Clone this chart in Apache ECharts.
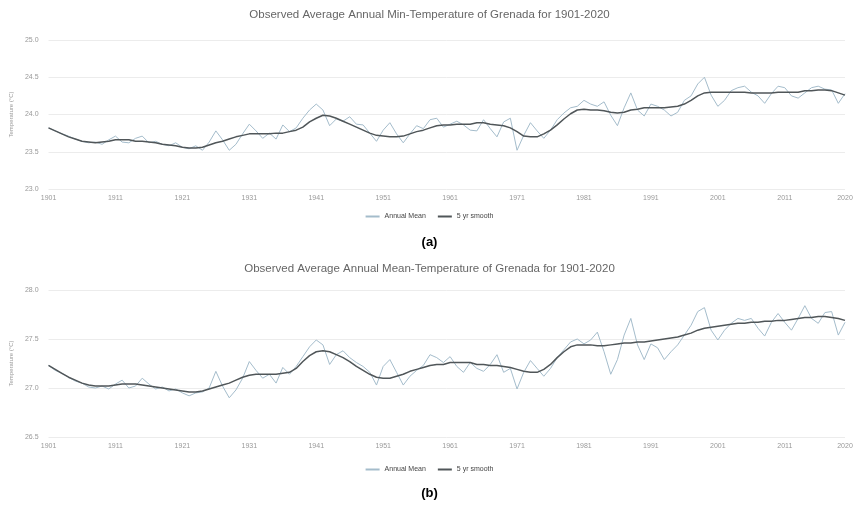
<!DOCTYPE html>
<html>
<head>
<meta charset="utf-8">
<script src="https://cdn.jsdelivr.net/npm/echarts@6/dist/echarts.min.js"></script>
<style>
  html, body { margin: 0; padding: 0; background: #fff; }
  #chart { width: 859px; height: 512px; }
</style>
</head>
<body>
<div id="chart"></div>
<script>
// Years 1901–2020
const years = [];
for (let y = 1901; y <= 2020; y++) years.push(String(y));

const titleMin = 'Observed Average Annual Min-Temperature of Grenada for 1901-2020';
const titleMean = 'Observed Average Annual Mean-Temperature of Grenada for 1901-2020';
const seriesNames = ['Annual Mean', '5 yr smooth'];

// Annual minimum temperature (°C)
const minAnnual = [
  23.82,23.78,23.74,23.71,23.67,23.64,23.62,23.63,23.60,23.66,
  23.71,23.63,23.62,23.68,23.71,23.62,23.64,23.60,23.58,23.62,
  23.56,23.54,23.58,23.52,23.63,23.78,23.66,23.52,23.60,23.74,
  23.87,23.78,23.68,23.75,23.67,23.86,23.77,23.82,23.95,24.06,
  24.14,24.06,23.85,23.94,23.91,23.97,23.87,23.86,23.75,23.64,
  23.79,23.89,23.74,23.62,23.74,23.85,23.81,23.93,23.95,23.83,
  23.87,23.91,23.86,23.79,23.78,23.93,23.81,23.70,23.90,23.95,
  23.52,23.72,23.89,23.78,23.68,23.79,23.93,24.02,24.09,24.11,
  24.19,24.14,24.11,24.17,23.99,23.85,24.09,24.29,24.06,23.98,
  24.14,24.11,24.06,23.98,24.03,24.19,24.25,24.41,24.50,24.26,
  24.11,24.19,24.32,24.36,24.38,24.30,24.25,24.15,24.28,24.38,
  24.36,24.25,24.22,24.29,24.36,24.38,24.34,24.33,24.15,24.28
];
// 5-year smoothed minimum temperature (°C)
const minSmooth = [
  23.82,23.78,23.74,23.70,23.67,23.64,23.63,23.62,23.63,23.64,
  23.66,23.66,23.66,23.64,23.64,23.63,23.62,23.60,23.59,23.58,
  23.56,23.55,23.55,23.56,23.59,23.62,23.64,23.67,23.70,23.72,
  23.74,23.74,23.74,23.74,23.75,23.75,23.77,23.79,23.83,23.90,
  23.95,23.99,23.98,23.95,23.91,23.87,23.83,23.79,23.75,23.72,
  23.71,23.70,23.70,23.71,23.74,23.77,23.79,23.82,23.85,23.86,
  23.86,23.87,23.87,23.87,23.89,23.89,23.87,23.86,23.85,23.82,
  23.77,23.71,23.70,23.70,23.74,23.79,23.86,23.94,24.01,24.06,
  24.07,24.06,24.06,24.05,24.03,24.02,24.03,24.06,24.07,24.09,
  24.09,24.09,24.09,24.10,24.11,24.14,24.19,24.25,24.29,24.30,
  24.30,24.30,24.30,24.30,24.30,24.29,24.29,24.29,24.29,24.30,
  24.30,24.30,24.30,24.32,24.32,24.33,24.33,24.32,24.29,24.26
];
// Annual mean temperature (°C)
const meanAnnual = [
  27.23,27.18,27.15,27.11,27.07,27.05,27.01,27.00,27.02,26.99,
  27.04,27.08,27.00,27.02,27.10,27.04,26.99,27.01,26.97,26.99,
  26.95,26.92,26.95,26.96,27.00,27.17,27.02,26.90,26.98,27.10,
  27.27,27.18,27.10,27.14,27.05,27.21,27.14,27.22,27.32,27.42,
  27.49,27.44,27.24,27.34,27.38,27.31,27.26,27.22,27.16,27.03,
  27.22,27.29,27.16,27.03,27.12,27.18,27.23,27.34,27.31,27.26,
  27.32,27.22,27.16,27.26,27.20,27.17,27.24,27.34,27.16,27.20,
  26.99,27.16,27.28,27.20,27.12,27.20,27.31,27.39,27.47,27.50,
  27.45,27.49,27.57,27.37,27.14,27.29,27.54,27.71,27.44,27.29,
  27.45,27.41,27.29,27.37,27.44,27.54,27.64,27.78,27.82,27.59,
  27.49,27.59,27.66,27.71,27.69,27.71,27.61,27.53,27.67,27.76,
  27.67,27.59,27.71,27.84,27.71,27.66,27.77,27.78,27.54,27.67
];
// 5-year smoothed mean temperature (°C)
const meanSmooth = [
  27.23,27.19,27.15,27.11,27.08,27.05,27.03,27.02,27.02,27.02,
  27.03,27.04,27.04,27.04,27.03,27.02,27.01,27.00,26.99,26.98,
  26.97,26.96,26.96,26.97,26.99,27.01,27.03,27.05,27.08,27.11,
  27.13,27.14,27.14,27.14,27.14,27.15,27.16,27.20,27.27,27.33,
  27.37,27.38,27.37,27.34,27.31,27.27,27.22,27.18,27.14,27.11,
  27.10,27.10,27.12,27.14,27.17,27.19,27.21,27.23,27.24,27.24,
  27.26,27.26,27.26,27.26,27.24,27.24,27.23,27.23,27.22,27.21,
  27.19,27.17,27.16,27.16,27.19,27.24,27.31,27.37,27.42,27.44,
  27.44,27.44,27.43,27.43,27.44,27.45,27.46,27.46,27.47,27.47,
  27.48,27.49,27.50,27.51,27.52,27.54,27.56,27.59,27.61,27.62,
  27.63,27.64,27.65,27.66,27.66,27.67,27.67,27.68,27.68,27.69,
  27.69,27.70,27.71,27.72,27.72,27.73,27.73,27.72,27.71,27.69
];

// Axis ranges and tick spacing (°C)
const minAxis = { min: 23.0, max: 25.0, interval: 0.5 };
const meanAxis = { min: 26.5, max: 28.0, interval: 0.5 };

const annualColor = '#a4bccb';
const smoothColor = '#505659';
const textGrey = '#666';
const lightGrey = '#999';

function xAxisFor(gridIndex) {
  return {
    type: 'category', gridIndex, data: years, boundaryGap: false,
    axisLine: { show: false },
    axisTick: { show: false },
    axisLabel: {
      color: lightGrey, fontSize: 7, margin: 6,
      interval: (i) => i % 10 === 0 || i === years.length - 1
    },
    splitLine: { show: false }
  };
}
function yAxisFor(gridIndex, range) {
  return {
    type: 'value', gridIndex, min: range.min, max: range.max, interval: range.interval,
    name: 'Temperature (°C)', nameLocation: 'middle', nameGap: 32, nameRotate: 90,
    nameTextStyle: { color: lightGrey, fontSize: 6 },
    axisLine: { show: false }, axisTick: { show: false },
    axisLabel: { color: lightGrey, fontSize: 7, margin: 10, formatter: (v) => v.toFixed(1) },
    splitLine: { lineStyle: { color: '#ececec', width: 1 } }
  };
}
function seriesFor(idx, annual, smooth) {
  return [
    { name: seriesNames[0], type: 'line', xAxisIndex: idx, yAxisIndex: idx, data: annual,
      symbol: 'none', lineStyle: { color: annualColor, width: 1 }, itemStyle: { color: annualColor }, z: 2 },
    { name: seriesNames[1], type: 'line', xAxisIndex: idx, yAxisIndex: idx, data: smooth,
      symbol: 'none', lineStyle: { color: smoothColor, width: 1.5 }, itemStyle: { color: smoothColor }, z: 3 }
  ];
}
// Legend keys drawn as short flat strokes
function legendFor(top) {
  return {
    top, left: 'center', data: seriesNames, itemWidth: 14, itemHeight: 2, itemGap: 12,
    icon: 'rect',
    textStyle: { color: '#444', fontSize: 7 }
  };
}

const chart = echarts.init(document.getElementById('chart'), null, { renderer: 'canvas' });
chart.setOption({
  animation: false,
  backgroundColor: '#fff',
  title: [
    { text: titleMin, left: 'center', top: 4, textStyle: { color: textGrey, fontSize: 11.5, fontWeight: 'normal' } },
    { text: titleMean, left: 'center', top: 258, textStyle: { color: textGrey, fontSize: 11.5, fontWeight: 'normal' } }
  ],
  legend: [legendFor(208), legendFor(461)],
  grid: [
    { left: 48, right: 14, top: 40, height: 149 },
    { left: 48, right: 14, top: 290, height: 147 }
  ],
  xAxis: [xAxisFor(0), xAxisFor(1)],
  yAxis: [yAxisFor(0, minAxis), yAxisFor(1, meanAxis)],
  series: [...seriesFor(0, minAnnual, minSmooth), ...seriesFor(1, meanAnnual, meanSmooth)],
  graphic: [
    { type: 'text', left: 'center', top: 236, style: { text: '(a)', fill: '#000', font: 'bold 13px "Liberation Sans", Arial, sans-serif' } },
    { type: 'text', left: 'center', top: 487, style: { text: '(b)', fill: '#000', font: 'bold 13px "Liberation Sans", Arial, sans-serif' } }
  ]
});
</script>
</body>
</html>
